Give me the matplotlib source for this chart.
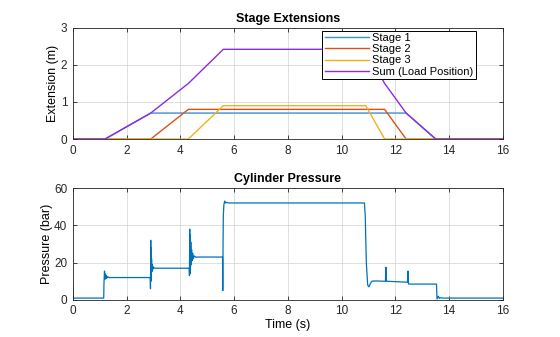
import matplotlib.pyplot as plt

plt.rcParams['font.family'] = ['Liberation Sans', 'DejaVu Sans']
plt.rcParams['font.size'] = 8

# ---------------------------------------------------------
# Stage extensions (m), breakpoints
# ---------------------------------------------------------
t_stage1 = [0, 1.2, 2.9, 12.4, 13.5, 16]
x_stage1 = [0, 0, 0.7, 0.7, 0, 0]

t_stage2 = [0, 2.9, 4.3, 11.6, 12.4, 16]
x_stage2 = [0, 0, 0.8, 0.8, 0, 0]

t_stage3 = [0, 4.3, 5.6, 10.9, 11.6, 16]
x_stage3 = [0, 0, 0.9, 0.9, 0, 0]

t_sum = [0, 1.2, 2.9, 4.3, 5.6, 10.9, 11.6, 12.4, 13.5, 16]
x_sum = [0, 0, 0.7, 1.5, 2.42, 2.42, 1.5, 0.7, 0, 0]

# ---------------------------------------------------------
# Cylinder pressure (bar), estimated trace
# ---------------------------------------------------------
t_pressure = [
    0.0, 0.02, 1.15,
    1.16, 1.18, 1.19, 1.20, 1.21, 1.22, 1.23, 1.24, 1.25, 1.27, 1.29, 1.32, 1.36, 1.42,
    2.88, 2.89, 2.90, 2.905, 2.91, 2.92, 2.93, 2.94, 2.95, 2.96, 2.98, 3.00, 3.03, 3.07, 3.12,
    4.33, 4.34, 4.35, 4.36, 4.37, 4.38, 4.39, 4.40, 4.42, 4.44, 4.46, 4.48, 4.52, 4.58, 4.66,
    5.57, 5.58, 5.59, 5.60, 5.62, 5.65, 5.68, 5.72, 5.80,
    10.85, 10.88, 10.92, 10.97, 11.02, 11.06, 11.12, 11.25,
    11.63, 11.65, 11.67, 11.70,
    12.45, 12.47, 12.49, 12.52,
    13.53, 13.55, 13.60, 13.64, 13.68, 13.75, 16.0,
]
p_pressure = [
    7, 1, 1,
    9, 15.5, 11, 14, 11.5, 13.5, 11.5, 13, 11.8, 12.6, 11.9, 12.3, 12.0, 12.0,
    12, 6, 32, 10, 28, 12, 22, 15, 19, 16, 18, 16.7, 17.2, 17.0, 17.0,
    17, 13, 38, 14, 35, 18, 31, 19, 27, 21, 25, 22, 23.6, 22.9, 23.0,
    23, 5, 30, 45, 51, 53, 52, 52.3, 52,
    52, 45, 20, 8, 7, 8.5, 10, 10.2,
    10, 17.5, 10, 10,
    9.5, 15.5, 8.6, 8.5,
    8.5, 0.5, 2, 0.8, 1.2, 1.0, 1.0,
]

c_blue = "#0072BD"
c_orange = "#D95319"
c_yellow = "#EDB120"
c_purple = "#8C2BE0"

fig = plt.figure(figsize=(5.6, 3.37), dpi=100)

ax1 = fig.add_axes([0.130, 0.5875, 0.768, 0.330])
ax2 = fig.add_axes([0.130, 0.110, 0.768, 0.332])

ax1.plot(t_stage1, x_stage1, color="#3D8FD1", lw=1.0, label="Stage 1")
ax1.plot(t_stage2, x_stage2, color=c_orange, lw=1.0, label="Stage 2")
ax1.plot(t_stage3, x_stage3, color=c_yellow, lw=1.0, label="Stage 3")
ax1.plot(t_sum, x_sum, color=c_purple, lw=1.0, label="Sum (Load Position)")

ax2.plot(t_pressure, p_pressure, color=c_blue, lw=0.9)

for ax in (ax1, ax2):
    ax.set_xlim(0, 16)
    ax.set_xticks(range(0, 17, 2))
    ax.grid(True, color="#d9d9d9", lw=0.6)
    ax.set_axisbelow(True)
    ax.tick_params(direction="in", length=3, width=0.6, top=True, right=True,
                   labelsize=8.5, colors="#262626", pad=4)
    for s in ax.spines.values():
        s.set_linewidth(0.6)
        s.set_color("#262626")

ax1.set_ylim(0, 3)
ax1.set_yticks([0, 1, 2, 3])
ax1.set_ylabel("Extension (m)", fontsize=9, labelpad=1)
ax1.set_title("Stage Extensions", fontsize=9, fontweight="bold", pad=4)

leg = ax1.legend(loc="upper right", bbox_to_anchor=(0.937, 0.975),
                 fontsize=8, frameon=True, fancybox=False,
                 borderpad=0.2, labelspacing=0.12, handlelength=4.0,
                 handletextpad=0.3, borderaxespad=0.0)
leg.get_frame().set_edgecolor("black")
leg.get_frame().set_linewidth(0.7)
leg.get_frame().set_alpha(1)

ax2.set_ylim(0, 60)
ax2.set_yticks([0, 20, 40, 60])
ax2.set_ylabel("Pressure (bar)", fontsize=9, labelpad=1)
ax2.set_xlabel("Time (s)", fontsize=9, labelpad=1)
ax2.set_title("Cylinder Pressure", fontsize=9, fontweight="bold", pad=4)

fig.savefig("out.png", dpi=100)
